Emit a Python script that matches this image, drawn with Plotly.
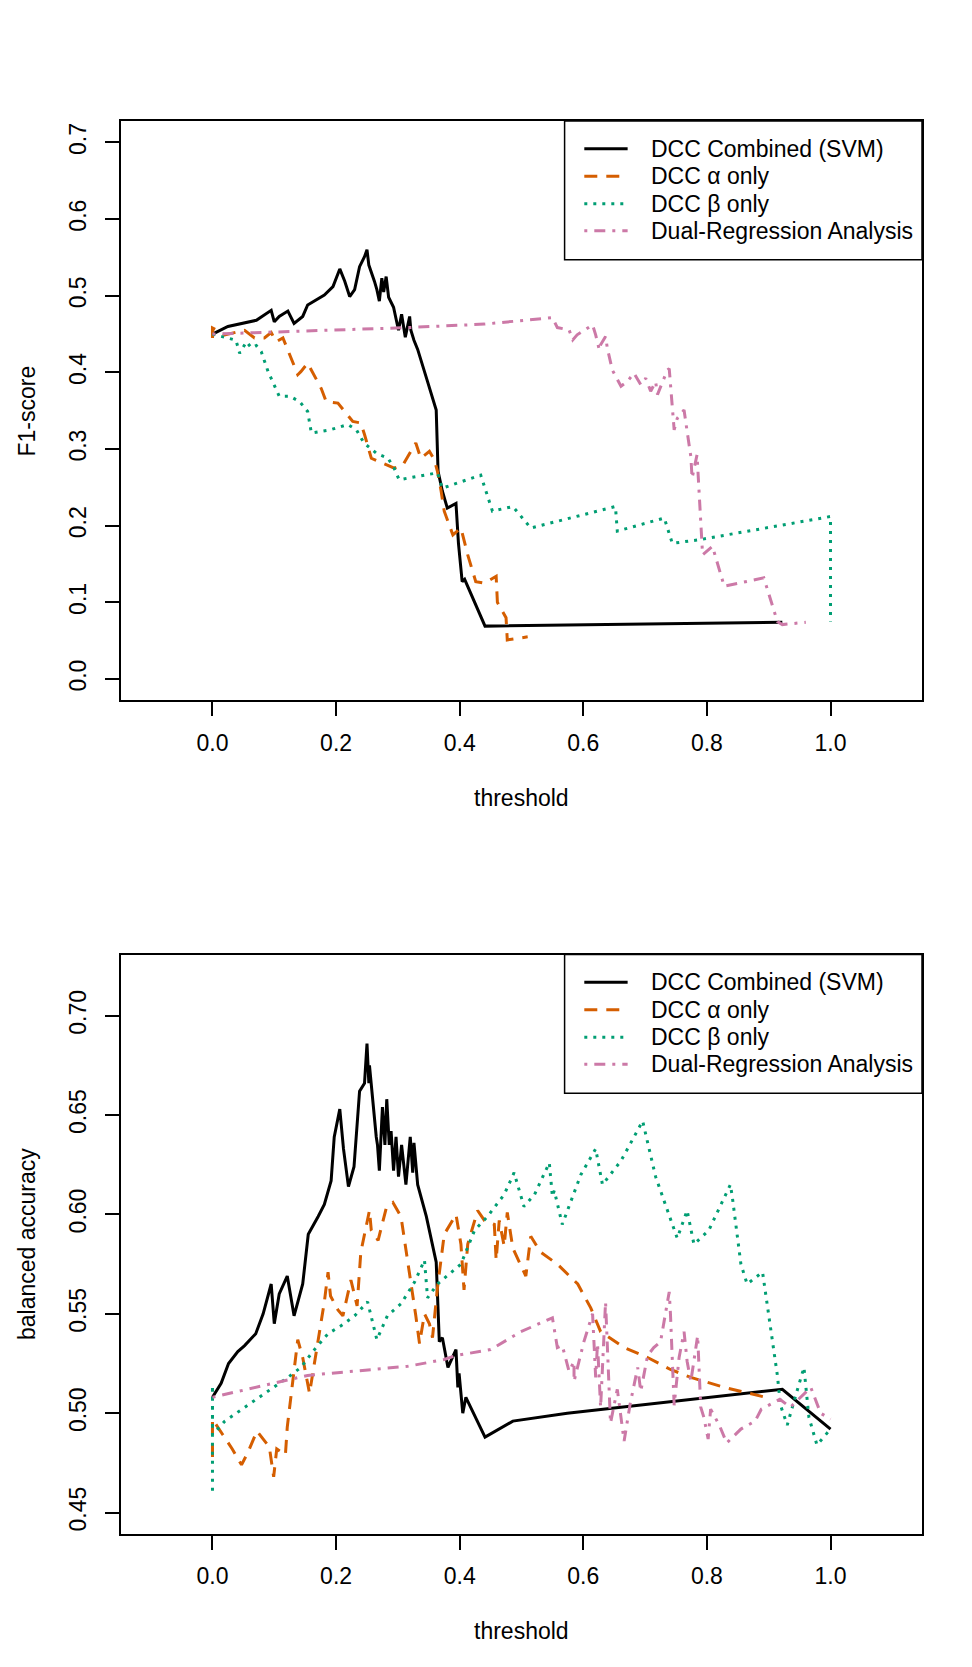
import plotly.graph_objects as go
from plotly.subplots import make_subplots

# ---- data ----
f1_svm_x = [0.0, 0.025, 0.071, 0.095, 0.100, 0.108, 0.122, 0.132, 0.146, 0.154,
            0.181, 0.195, 0.206, 0.214, 0.222, 0.230, 0.238, 0.246, 0.250, 0.253,
            0.262, 0.266, 0.270, 0.274, 0.277, 0.281, 0.285, 0.289, 0.293, 0.297,
            0.301, 0.306, 0.312, 0.319, 0.321, 0.326, 0.332, 0.348, 0.362, 0.365,
            0.372, 0.380, 0.394, 0.398, 0.404, 0.408, 0.441, 0.922]
f1_svm_y = [0.450, 0.460, 0.468, 0.481, 0.466, 0.473, 0.480, 0.464, 0.473, 0.488,
            0.501, 0.512, 0.535, 0.519, 0.499, 0.508, 0.538, 0.551, 0.560, 0.540,
            0.519, 0.508, 0.493, 0.523, 0.505, 0.525, 0.498, 0.492, 0.485, 0.470,
            0.455, 0.476, 0.446, 0.473, 0.455, 0.442, 0.430, 0.388, 0.351, 0.271,
            0.245, 0.223, 0.229, 0.177, 0.127, 0.130, 0.069, 0.074]

f1_alpha_x = [0.0, 0.0, 0.020, 0.052, 0.068, 0.084, 0.095, 0.103, 0.114, 0.138,
              0.143, 0.154, 0.176, 0.184, 0.203, 0.227, 0.240, 0.246, 0.257, 0.283,
              0.294, 0.308, 0.329, 0.337, 0.351, 0.359, 0.364, 0.370, 0.375, 0.389,
              0.402, 0.413, 0.426, 0.440, 0.459, 0.461, 0.475, 0.477, 0.510]
f1_alpha_y = [0.445, 0.458, 0.449, 0.455, 0.445, 0.445, 0.452, 0.440, 0.445, 0.397,
              0.401, 0.412, 0.379, 0.362, 0.360, 0.336, 0.334, 0.319, 0.288, 0.279,
              0.275, 0.279, 0.308, 0.288, 0.297, 0.286, 0.271, 0.245, 0.219, 0.188,
              0.197, 0.162, 0.127, 0.125, 0.134, 0.100, 0.080, 0.051, 0.055]

f1_beta_x = [0.0, 0.038, 0.044, 0.055, 0.063, 0.071, 0.079, 0.090, 0.108, 0.125,
             0.141, 0.154, 0.160, 0.190, 0.219, 0.233, 0.245, 0.266, 0.284, 0.294,
             0.302, 0.364, 0.372, 0.434, 0.453, 0.486, 0.515, 0.652, 0.655, 0.731,
             0.744, 0.790, 1.0, 1.0]
f1_beta_y = [0.450, 0.442, 0.425, 0.440, 0.432, 0.435, 0.427, 0.401, 0.369, 0.369,
             0.362, 0.349, 0.321, 0.325, 0.332, 0.325, 0.308, 0.294, 0.288, 0.275,
             0.260, 0.269, 0.249, 0.266, 0.219, 0.225, 0.197, 0.225, 0.193, 0.210,
             0.177, 0.182, 0.212, 0.075]

f1_dual_x = [0.0, 0.316, 0.440, 0.550, 0.558, 0.566, 0.577, 0.583, 0.590, 0.615,
             0.620, 0.626, 0.628, 0.636, 0.639, 0.647, 0.661, 0.671, 0.682, 0.693,
             0.701, 0.709, 0.717, 0.720, 0.736, 0.739, 0.747, 0.752, 0.763, 0.768,
             0.774, 0.776, 0.784, 0.793, 0.809, 0.828, 0.892, 0.914, 0.922, 0.960]
f1_dual_y = [0.450, 0.4585, 0.463, 0.4715, 0.4585, 0.457, 0.4554, 0.4424, 0.449, 0.462,
             0.449, 0.429, 0.436, 0.447, 0.431, 0.403, 0.382, 0.388, 0.399, 0.384,
             0.3925, 0.3755, 0.388, 0.371, 0.403, 0.405, 0.325, 0.340, 0.351, 0.323,
             0.290, 0.262, 0.2925, 0.162, 0.173, 0.121, 0.132, 0.075, 0.071, 0.074]

ba_svm_x = [0.0, 0.014, 0.026, 0.041, 0.052, 0.070, 0.082, 0.095, 0.100, 0.108,
            0.121, 0.132, 0.146, 0.155, 0.171, 0.181, 0.192, 0.197, 0.206, 0.212,
            0.220, 0.229, 0.238, 0.246, 0.250, 0.253, 0.254, 0.259, 0.265, 0.267,
            0.270, 0.275, 0.279, 0.282, 0.286, 0.289, 0.293, 0.297, 0.301, 0.306,
            0.313, 0.320, 0.324, 0.326, 0.332, 0.346, 0.362, 0.367, 0.372, 0.381,
            0.394, 0.397, 0.399, 0.405, 0.410, 0.441, 0.486, 0.574, 0.922, 1.0]
ba_svm_y = [0.508, 0.515, 0.525, 0.531, 0.534, 0.540, 0.550, 0.565, 0.545, 0.560,
            0.569, 0.549, 0.565, 0.590, 0.599, 0.605, 0.617, 0.639, 0.653, 0.633,
            0.614, 0.624, 0.662, 0.666, 0.686, 0.666, 0.675, 0.657, 0.639, 0.635,
            0.622, 0.654, 0.635, 0.658, 0.635, 0.642, 0.622, 0.639, 0.619, 0.635,
            0.615, 0.639, 0.621, 0.636, 0.615, 0.599, 0.576, 0.536, 0.538, 0.523,
            0.532, 0.513, 0.520, 0.500, 0.508, 0.488, 0.496, 0.500, 0.512, 0.492]

ba_alpha_x = [0.0, 0.0, 0.017, 0.032, 0.047, 0.057, 0.072, 0.092, 0.099, 0.104,
              0.118, 0.121, 0.133, 0.138, 0.146, 0.157, 0.168, 0.176, 0.181, 0.187,
              0.191, 0.203, 0.211, 0.224, 0.234, 0.240, 0.246, 0.254, 0.257, 0.268,
              0.281, 0.292, 0.305, 0.313, 0.321, 0.329, 0.335, 0.343, 0.351, 0.356,
              0.364, 0.375, 0.394, 0.402, 0.407, 0.413, 0.429, 0.440, 0.456, 0.459,
              0.464, 0.472, 0.477, 0.486, 0.507, 0.515, 0.531, 0.558, 0.591, 0.612,
              0.628, 0.666, 0.704, 0.741, 0.774, 0.828, 0.895]
ba_alpha_y = [0.478, 0.497, 0.489, 0.482, 0.474, 0.480, 0.491, 0.483, 0.468, 0.482,
              0.479, 0.493, 0.524, 0.537, 0.528, 0.510, 0.531, 0.547, 0.556, 0.571,
              0.559, 0.552, 0.549, 0.567, 0.554, 0.581, 0.590, 0.602, 0.592, 0.587,
              0.603, 0.606, 0.599, 0.583, 0.567, 0.549, 0.535, 0.550, 0.545, 0.538,
              0.563, 0.590, 0.600, 0.585, 0.562, 0.585, 0.602, 0.597, 0.595, 0.577,
              0.597, 0.584, 0.601, 0.583, 0.569, 0.589, 0.581, 0.575, 0.565, 0.553,
              0.541, 0.533, 0.528, 0.522, 0.518, 0.513, 0.508]

ba_beta_x = [0.0, 0.0, 0.0, 0.020, 0.057, 0.090, 0.122, 0.143, 0.165, 0.187,
             0.208, 0.230, 0.251, 0.266, 0.283, 0.305, 0.327, 0.343, 0.348, 0.364,
             0.402, 0.424, 0.445, 0.472, 0.488, 0.504, 0.521, 0.545, 0.550, 0.553,
             0.566, 0.596, 0.620, 0.631, 0.661, 0.696, 0.717, 0.752, 0.768, 0.779,
             0.803, 0.838, 0.841, 0.855, 0.865, 0.890, 0.898, 0.903, 0.914, 0.919,
             0.930, 0.940, 0.957, 0.965, 0.978, 1.0]
ba_beta_y = [0.461, 0.514, 0.489, 0.496, 0.504, 0.511, 0.518, 0.523, 0.532, 0.540,
             0.544, 0.549, 0.556, 0.537, 0.549, 0.555, 0.566, 0.577, 0.558, 0.565,
             0.575, 0.592, 0.599, 0.610, 0.621, 0.604, 0.610, 0.626, 0.609, 0.612,
             0.595, 0.620, 0.633, 0.615, 0.627, 0.647, 0.619, 0.588, 0.602, 0.585,
             0.592, 0.615, 0.609, 0.575, 0.565, 0.571, 0.553, 0.543, 0.519, 0.504,
             0.494, 0.505, 0.523, 0.498, 0.484, 0.492]

ba_dual_x = [0.0, 0.154, 0.316, 0.375, 0.394, 0.450, 0.499, 0.550, 0.558, 0.566,
             0.577, 0.585, 0.585, 0.601, 0.615, 0.620, 0.623, 0.628, 0.636, 0.639,
             0.644, 0.655, 0.666, 0.676, 0.688, 0.693, 0.704, 0.714, 0.725, 0.739,
             0.741, 0.747, 0.755, 0.763, 0.768, 0.774, 0.785, 0.790, 0.795, 0.802,
             0.806, 0.820, 0.832, 0.855, 0.878, 0.888, 0.905, 0.918, 0.935, 0.952,
             0.968, 0.984, 1.0]
ba_dual_y = [0.508, 0.519, 0.5236, 0.527, 0.529, 0.532, 0.541, 0.548, 0.533, 0.534,
             0.521, 0.526, 0.516, 0.536, 0.550, 0.518, 0.535, 0.503, 0.556, 0.536,
             0.495, 0.512, 0.486, 0.505, 0.523, 0.511, 0.529, 0.533, 0.536, 0.561,
             0.550, 0.504, 0.528, 0.541, 0.526, 0.516, 0.539, 0.503, 0.498, 0.487,
             0.502, 0.494, 0.485, 0.492, 0.496, 0.502, 0.505, 0.507, 0.503, 0.508,
             0.513, 0.500, 0.497]

series_names = ["DCC Combined (SVM)", "DCC \u03b1 only", "DCC \u03b2 only", "Dual-Regression Analysis"]
series_colors = ["#000000", "#D55E00", "#009E73", "#CC79A7"]
series_dash = ["solid", "13px,9px", "3px,6px", "3px,7px,11px,7px"]

x_ticks = [0.0, 0.2, 0.4, 0.6, 0.8, 1.0]
f1_ticks = [0.0, 0.1, 0.2, 0.3, 0.4, 0.5, 0.6, 0.7]
ba_ticks = [0.45, 0.50, 0.55, 0.60, 0.65, 0.70]

FONT = "Liberation Sans, Arial, sans-serif"
FS = 23
LW = 3

fig = make_subplots(rows=2, cols=1)

top = [(f1_svm_x, f1_svm_y), (f1_alpha_x, f1_alpha_y), (f1_beta_x, f1_beta_y), (f1_dual_x, f1_dual_y)]
bottom = [(ba_svm_x, ba_svm_y), (ba_alpha_x, ba_alpha_y), (ba_beta_x, ba_beta_y), (ba_dual_x, ba_dual_y)]

for row, data in ((1, top), (2, bottom)):
    for i, (xs, ys) in enumerate(data):
        fig.add_trace(go.Scatter(
            x=xs, y=ys, mode="lines", name=series_names[i], showlegend=False,
            line=dict(color=series_colors[i], width=LW, dash=series_dash[i]),
        ), row=row, col=1)


def add_box_legend(fig, xd, yd):
    # R-style legend box in the top-right corner of the panel
    fig.add_shape(type="rect", xref=xd, yref=yd, x0=0.5538, x1=1.0, y0=0.7607, y1=1.0,
                  line=dict(color="black", width=1.5), fillcolor="white", layer="above")
    rows_y = [0.9522, 0.9046, 0.8573, 0.8107]
    for i, yy in enumerate(rows_y):
        fig.add_shape(type="line", xref=xd, yref=yd, x0=0.5784, x1=0.6325, y0=yy, y1=yy,
                      line=dict(color=series_colors[i], width=LW, dash=series_dash[i]),
                      layer="above")
        fig.add_annotation(xref=xd, yref=yd, x=0.6595, y=yy, text=series_names[i],
                           showarrow=False, xanchor="left", yanchor="middle",
                           font=dict(family=FONT, size=FS, color="black"))


add_box_legend(fig, "x domain", "y domain")
add_box_legend(fig, "x2 domain", "y2 domain")

axis_common = dict(showline=True, mirror=True, linecolor="black", linewidth=1.5,
                   ticks="outside", ticklen=14, tickwidth=1.5, tickcolor="black",
                   showgrid=False, zeroline=False,
                   tickfont=dict(family=FONT, size=FS, color="black"))

fig.update_xaxes(range=[-0.148, 1.148], tickvals=x_ticks, tickformat=".1f",
                 ticklabelstandoff=7, **axis_common)
fig.update_yaxes(tickangle=-90, ticklabelstandoff=10, **axis_common)

fig.update_layout(
    xaxis=dict(domain=[0, 1]),
    xaxis2=dict(domain=[0, 1]),
    yaxis=dict(domain=[0.5899, 1.0], range=[-0.028, 0.728], tickvals=f1_ticks, tickformat=".1f"),
    yaxis2=dict(domain=[0.0, 0.4101], range=[0.4392, 0.7308], tickvals=ba_ticks, tickformat=".2f"),
    width=972, height=1667,
    margin=dict(l=113, r=58, t=113, b=141),
    plot_bgcolor="white", paper_bgcolor="white",
    font=dict(family=FONT, size=FS, color="black"),
)

# axis titles placed like base-R graphics
for xd, yd, ytitle in (("x domain", "y domain", "F1-score"), ("x2 domain", "y2 domain", "balanced accuracy")):
    fig.add_annotation(xref=xd, yref=yd, x=0.5, y=-0.168, text="threshold", showarrow=False,
                       xanchor="center", yanchor="middle", font=dict(family=FONT, size=FS))
    fig.add_annotation(xref=xd, yref=yd, x=-0.1176, y=0.5, text=ytitle, showarrow=False,
                       textangle=-90, xanchor="center", yanchor="middle",
                       font=dict(family=FONT, size=FS))

fig.write_html("out.html")
